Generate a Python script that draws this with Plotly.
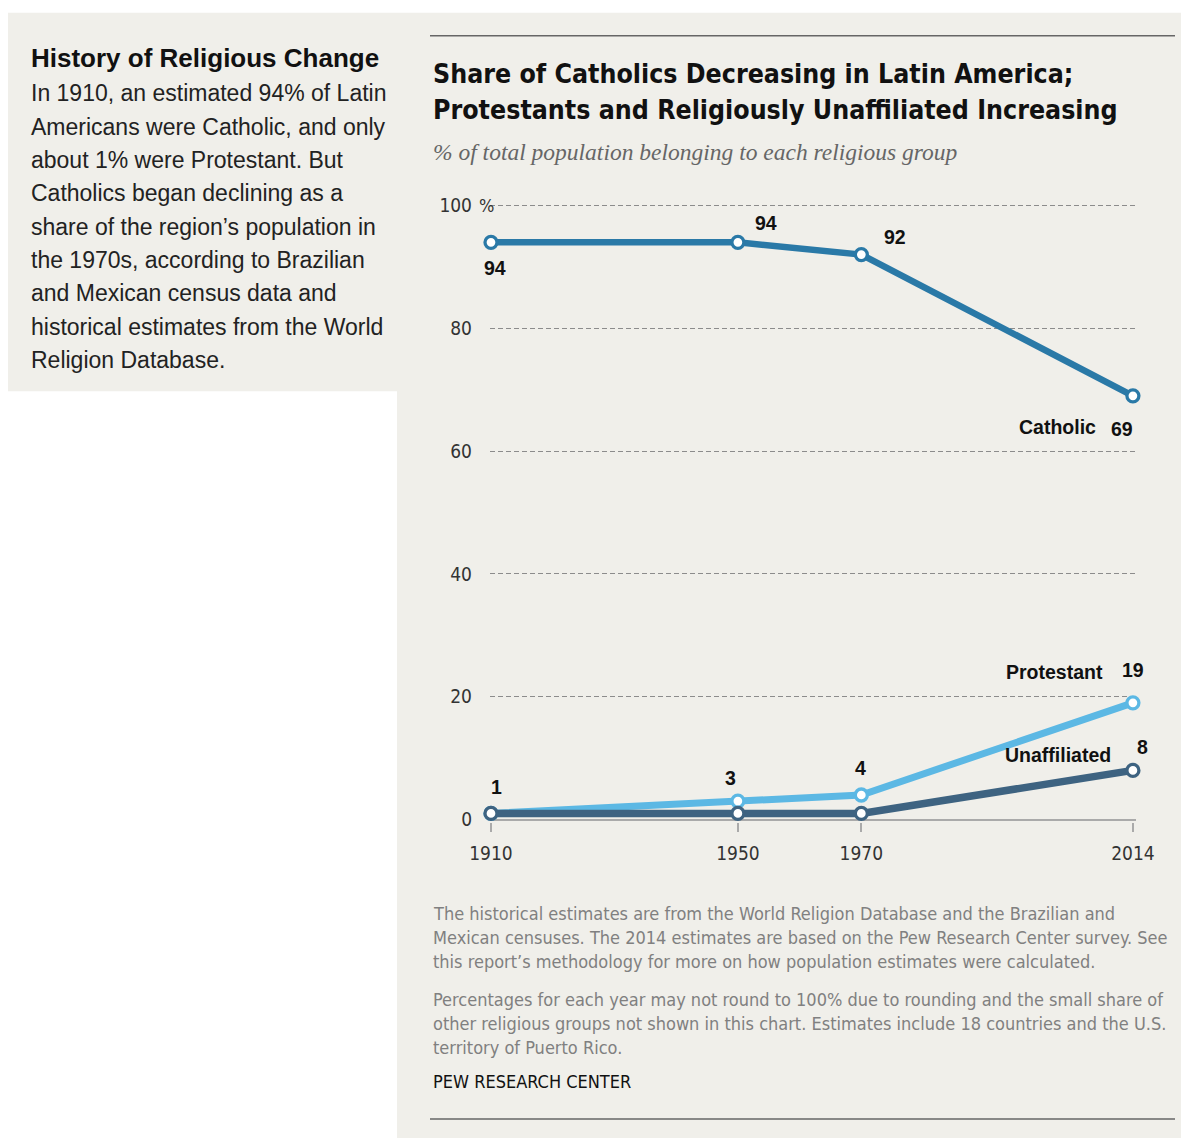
import plotly.graph_objects as go

# ---- data ----
years = [1910, 1950, 1970, 2014]
catholic = [94, 94, 92, 69]
protestant = [1, 3, 4, 19]
unaffiliated = [1, 1, 1, 8]
y_ticks = [0, 20, 40, 60, 80, 100]
y_ticktext = ["0", "20", "40", "60", "80", "100"]

C_CATH = "#2a79a7"
C_PROT = "#5cb8e4"
C_UNAF = "#3e6381"
BG = "#f0efea"

OFF = 8  # page body margin
W, H = 1189 - OFF, 1138 - OFF
# plot area in reference pixels (y range padded slightly so the 100 gridline shows)
UNIT = 6.15
L, R = 490 - OFF, 1136 - OFF
T = 205 - 0.4 * UNIT - OFF
B = 820 + 0.4 * UNIT - OFF


def px(x):
    return (x - OFF - L) / (R - L)


def py(y):
    return (B - (y - OFF)) / (B - T)


COND = "Liberation Sans Narrow, DejaVu Sans Condensed, Arial Narrow, sans-serif"
SANS = "Liberation Sans, Arial, sans-serif"

fig = go.Figure()


def series(vals, color, width):
    fig.add_trace(go.Scatter(
        x=years, y=vals, mode="lines+markers",
        line=dict(color=color, width=width),
        marker=dict(size=12, color="white", line=dict(color=color, width=3.3)),
        cliponaxis=False, hoverinfo="skip", showlegend=False))


series(catholic, C_CATH, 6.5)
series(protestant, C_PROT, 7)
series(unaffiliated, C_UNAF, 7.5)

ann = []


def lab(x, y, text, dx, dy, size=19.5):
    ann.append(dict(x=x, y=y, xref="x", yref="y", text=text, showarrow=False,
                    xshift=dx, yshift=dy,
                    font=dict(family=SANS, size=size, color="#111"),
                    xanchor="center", yanchor="middle"))


# Catholic labels
lab(years[0], catholic[0], f"<b>{catholic[0]}</b>", 4, -26)
lab(years[1], catholic[1], f"<b>{catholic[1]}</b>", 28, 19)
lab(years[2], catholic[2], f"<b>{catholic[2]}</b>", 34, 18)
lab(years[3], catholic[3], f"<b>{catholic[3]}</b>", -11, -33)
lab(years[3], catholic[3], "<b>Catholic</b>", -75, -31)
# Protestant labels
lab(years[0], protestant[0], f"<b>{protestant[0]}</b>", 6, 26)
lab(years[1], protestant[1], f"<b>{protestant[1]}</b>", -7, 23)
lab(years[2], protestant[2], f"<b>{protestant[2]}</b>", -1, 27)
lab(years[3], protestant[3], f"<b>{protestant[3]}</b>", 0, 33)
lab(years[3], protestant[3], "<b>Protestant</b>", -78, 31)
# Unaffiliated labels
lab(years[3], unaffiliated[3], f"<b>{unaffiliated[3]}</b>", 10, 23)
lab(years[3], unaffiliated[3], "<b>Unaffiliated</b>", -75, 15)


def txt(x, y, text, size, color="#111", family=SANS, anchor="left"):
    ann.append(dict(x=px(x), y=py(y), xref="paper", yref="paper", text=text,
                    showarrow=False, xanchor=anchor, yanchor="middle",
                    font=dict(family=family, size=size, color=color)))


# "%" after 100 tick
txt(477, 205, "%", 18, "#333", COND)

# left box
txt(29, 57, "<b>History of Religious Change</b>", 26)
body = ["In 1910, an estimated 94% of Latin",
        "Americans were Catholic, and only",
        "about 1% were Protestant. But",
        "Catholics began declining as a",
        "share of the region\u2019s population in",
        "the 1970s, according to Brazilian",
        "and Mexican census data and",
        "historical estimates from the World",
        "Religion Database."]
body_y = [92, 126, 159, 193, 227, 260, 293, 327, 360]
for t, yy in zip(body, body_y):
    txt(29, yy, t, 23, "#222")

# title / subtitle
txt(431, 73, "<b>Share of Catholics Decreasing in Latin America;</b>", 26.5, "#111", COND)
txt(431, 109, "<b>Protestants and Religiously Unaffiliated Increasing</b>", 26.5, "#111", COND)
txt(431, 151, "<i>% of total population belonging to each religious group</i>", 23.5, "#666",
    "Liberation Serif, DejaVu Serif, serif")

notes = ["The historical estimates are from the World Religion Database and the Brazilian and",
         "Mexican censuses. The 2014 estimates are based on the Pew Research Center survey. See",
         "this report\u2019s methodology for more on how population estimates were calculated.",
         "Percentages for each year may not round to 100% due to rounding and the small share of",
         "other religious groups not shown in this chart. Estimates include 18 countries and the U.S.",
         "territory of Puerto Rico."]
notes_y = [914, 938, 962, 1000, 1024, 1048]
for t, yy in zip(notes, notes_y):
    txt(431, yy, t, 18, "#808080", COND)
txt(431, 1082, "PEW RESEARCH CENTER", 18, "#111", COND)

shapes = [
    dict(type="rect", xref="paper", yref="paper", x0=px(397), x1=px(1200), y0=py(12), y1=py(1150),
         fillcolor=BG, line=dict(width=0), layer="below"),
    dict(type="rect", xref="paper", yref="paper", x0=px(8), x1=px(397), y0=py(12), y1=py(391),
         fillcolor=BG, line=dict(width=0), layer="below"),
    dict(type="line", xref="paper", yref="paper", x0=px(430), x1=px(1175), y0=py(35), y1=py(35),
         line=dict(color="#666", width=1.5)),
    dict(type="line", xref="paper", yref="paper", x0=px(430), x1=px(1175), y0=py(1120), y1=py(1120),
         line=dict(color="#666", width=1.5)),
]

fig.update_layout(
    width=W, height=H,
    margin=dict(l=L, r=W - R, t=T, b=H - B, pad=0),
    paper_bgcolor="white", plot_bgcolor="rgba(0,0,0,0)",
    showlegend=False, annotations=ann, shapes=shapes,
    xaxis=dict(range=[1909.84, 2014.5], tickvals=years, ticktext=[str(y) for y in years],
               showgrid=False, zeroline=False, showline=False,
               ticks="outside", ticklen=9, tickcolor="#aaa", tickwidth=1.5,
               ticklabelstandoff=5,
               tickfont=dict(family=COND, size=19, color="#333"), fixedrange=True),
    yaxis=dict(range=[-0.4, 100.4], tickvals=y_ticks, ticktext=y_ticktext,
               showgrid=True, gridcolor="#8c8c8c", griddash="5px,3px", gridwidth=1.3,
               zeroline=True, zerolinecolor="#aaa", zerolinewidth=2,
               showline=False, ticks="", ticklabelstandoff=17,
               tickfont=dict(family=COND, size=19, color="#333"), fixedrange=True),
)

fig.write_html("out.html")
